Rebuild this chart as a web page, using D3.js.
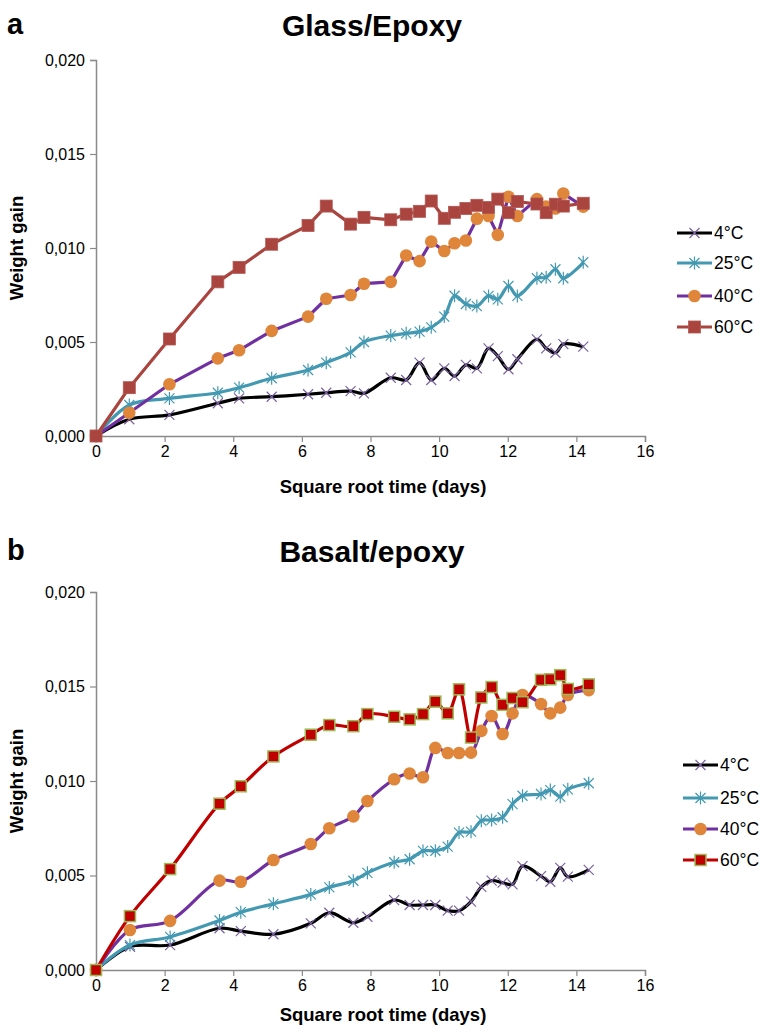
<!DOCTYPE html>
<html><head><meta charset="utf-8">
<script src="https://cdn.jsdelivr.net/npm/d3@7"></script>
<style>body{margin:0;background:#fff}svg{display:block}text{font-family:"Liberation Sans",Arial,Helvetica,sans-serif}</style>
</head><body>
<svg id="c" width="760" height="1028"></svg>
<script>
// ---------- data ----------
const xTicks = [0, 2, 4, 6, 8, 10, 12, 14, 16];
const yTicks = [0, 0.005, 0.010, 0.015, 0.020];
const seriesNames = ["4°C", "25°C", "40°C", "60°C"];

const glassTime = [0, 0.97, 2.14, 3.55, 4.17, 5.12, 6.18, 6.71, 7.42, 7.81, 8.59, 9.04, 9.43, 9.77, 10.15, 10.45, 10.78, 11.1, 11.44, 11.71, 12.02, 12.28, 12.85, 13.12, 13.39, 13.62, 14.2];
const glass4  = [0, 0.00089, 0.00112, 0.00174, 0.0020, 0.00209, 0.00222, 0.0023, 0.00239, 0.00227, 0.0031, 0.00298, 0.0039, 0.00298, 0.0036, 0.00319, 0.00378, 0.0036, 0.00466, 0.00425, 0.00355, 0.00408, 0.00514, 0.00466, 0.00443, 0.00489, 0.00475];
const glass25 = [0, 0.00165, 0.0020, 0.0023, 0.00257, 0.00307, 0.00351, 0.0039, 0.00445, 0.0050, 0.00534, 0.00546, 0.00555, 0.00578, 0.00635, 0.00746, 0.00702, 0.00691, 0.00745, 0.00727, 0.00798, 0.00745, 0.00839, 0.00844, 0.00887, 0.00839, 0.00924];
const glass40 = [0, 0.00124, 0.00275, 0.00413, 0.00456, 0.00559, 0.00635, 0.0073, 0.0075, 0.0081, 0.0082, 0.0096, 0.0093, 0.01034, 0.00984, 0.01025, 0.0104, 0.01156, 0.0117, 0.0107, 0.01273, 0.0117, 0.0126, 0.0122, 0.0121, 0.0129, 0.0122];
const glass60 = [0, 0.00257, 0.00516, 0.0082, 0.00897, 0.0102, 0.0112, 0.01223, 0.01127, 0.01163, 0.0115, 0.0118, 0.01195, 0.0125, 0.01158, 0.0119, 0.0121, 0.01227, 0.01215, 0.0126, 0.01188, 0.01247, 0.01234, 0.01188, 0.01233, 0.01223, 0.01238];

const basaltTime = [0, 0.99, 2.16, 3.6, 4.22, 5.17, 6.26, 6.8, 7.5, 7.91, 8.69, 9.14, 9.53, 9.89, 10.25, 10.58, 10.93, 11.23, 11.53, 11.85, 12.14, 12.43, 12.97, 13.24, 13.53, 13.75, 14.36];
const basalt4  = [0, 0.00123, 0.00132, 0.00221, 0.00206, 0.00189, 0.00247, 0.00303, 0.0025, 0.00282, 0.0037, 0.00344, 0.00344, 0.00344, 0.00314, 0.00314, 0.00362, 0.0044, 0.00473, 0.00462, 0.00453, 0.0055, 0.00497, 0.00467, 0.0054, 0.00494, 0.0053];
const basalt25 = [0, 0.00132, 0.00175, 0.00262, 0.00306, 0.0035, 0.0040, 0.00437, 0.00472, 0.00514, 0.0057, 0.00586, 0.0063, 0.00631, 0.00653, 0.00727, 0.00732, 0.0079, 0.00794, 0.00808, 0.00878, 0.00922, 0.00931, 0.00952, 0.00917, 0.00956, 0.00988];
const basalt40 = [0, 0.00212, 0.0026, 0.00473, 0.00467, 0.00582, 0.00667, 0.0075, 0.00813, 0.00894, 0.01009, 0.0104, 0.0102, 0.01175, 0.01148, 0.01148, 0.0115, 0.01265, 0.01344, 0.01249, 0.01358, 0.01455, 0.01407, 0.01358, 0.01388, 0.01455, 0.01481];
const basalt60 = [0, 0.00285, 0.00534, 0.0088, 0.00972, 0.0113, 0.01245, 0.01296, 0.0129, 0.01354, 0.0134, 0.01326, 0.01354, 0.0142, 0.01358, 0.01485, 0.0123, 0.01442, 0.01497, 0.01403, 0.01439, 0.01417, 0.01535, 0.01538, 0.0156, 0.01487, 0.01511];

// ---------- drawing ----------
const svg = d3.select("#c");
const fmtY = v => d3.format(".3f")(v).replace(".", ",");
const axisColor = "#8a8a8a";

function markerDraw(g, type, st) {
  if (type === "x") {
    g.append("path").attr("d", "M-5,-5L5,5M-5,5L5,-5").attr("stroke", st.mColor).attr("stroke-width", 1.2).attr("fill", "none");
  } else if (type === "star") {
    g.append("path").attr("d", "M-5,-5L5,5M-5,5L5,-5M0,-6.5L0,6.5").attr("stroke", st.mColor).attr("stroke-width", 1.2).attr("fill", "none");
  } else if (type === "circle") {
    g.append("circle").attr("r", 6.3).attr("fill", st.mColor);
  } else if (type === "square") {
    const s = st.size;
    g.append("rect").attr("x", -s/2).attr("y", -s/2).attr("width", s).attr("height", s)
      .attr("fill", st.mColor).attr("stroke", st.mStroke).attr("stroke-width", st.mStrokeW);
  }
}

function drawPanel(cfg) {
  const x = d3.scaleLinear().domain([0, 16]).range([96, 645]);
  const y = d3.scaleLinear().domain([0, 0.020]).range([cfg.y0, cfg.y1]);
  const g = svg.append("g");

  // letter & title
  g.append("text").attr("x", 7).attr("y", cfg.titleY - 2).attr("font-size", 29).attr("font-weight", "bold").text(cfg.letter);
  g.append("text").attr("x", 372).attr("y", cfg.titleY).attr("text-anchor", "middle").attr("font-size", 30).attr("font-weight", "bold").text(cfg.title);

  // axes
  const yAxis = d3.axisLeft(y).tickValues(yTicks).tickFormat(fmtY).tickSize(6).tickPadding(5);
  const ya = g.append("g").attr("transform", "translate(96,0)").call(yAxis);
  const xAxis = d3.axisBottom(x).tickValues(xTicks).tickFormat(d3.format("d")).tickSize(6).tickPadding(4);
  const xa = g.append("g").attr("transform", `translate(0,${cfg.y0})`).call(xAxis);
  [ya, xa].forEach(a => {
    a.select(".domain").attr("stroke", axisColor).attr("stroke-width", 1.5);
    a.selectAll(".tick line").attr("stroke", axisColor).attr("stroke-width", 1.2);
    a.selectAll(".tick text").attr("fill", "#000").attr("font-size", 16).attr("font-family", "Liberation Sans, Arial, sans-serif");
  });

  g.append("text").attr("x", 383).attr("y", cfg.xTitleY).attr("text-anchor", "middle").attr("font-size", 18.5).attr("font-weight", "bold").text("Square root time (days)");
  g.append("text").attr("transform", `translate(23,${(cfg.y0 + cfg.y1) / 2}) rotate(-90)`).attr("text-anchor", "middle").attr("font-size", 18.5).attr("font-weight", "bold").text("Weight gain");

  // series
  cfg.series.forEach((s, i) => {
    const pts = cfg.time.map((t, j) => [t, s.values[j]]);
    const line = d3.line().x(d => x(d[0])).y(d => y(d[1])).curve(s.smooth ? d3.curveCatmullRom.alpha(0.5) : d3.curveLinear);
    g.append("path").datum(pts).attr("d", line).attr("fill", "none").attr("stroke", s.lColor).attr("stroke-width", 3.2).attr("stroke-linejoin", "round");
    pts.forEach(p => {
      const mg = g.append("g").attr("transform", `translate(${x(p[0])},${y(p[1])})`);
      markerDraw(mg, s.marker, s);
    });
    // legend
    const ly = cfg.legendY[i];
    const lg = g.append("g");
    lg.append("line").attr("x1", cfg.legendX).attr("x2", cfg.legendX + 35).attr("y1", ly).attr("y2", ly).attr("stroke", s.lColor).attr("stroke-width", 3.2);
    markerDraw(lg.append("g").attr("transform", `translate(${cfg.legendX + 17.5},${ly})`), s.marker, s);
    lg.append("text").attr("x", cfg.legendX + 37).attr("y", ly + 6).attr("font-size", 17.5).text(seriesNames[i]);
  });
}

drawPanel({
  letter: "a", title: "Glass/Epoxy", titleY: 36, y0: 436, y1: 60, xTitleY: 493,
  time: glassTime, legendX: 677, legendY: [233, 263, 296, 327],
  series: [
    {values: glass4, lColor: "#000", marker: "x", mColor: "#7b62a0", smooth: true},
    {values: glass25, lColor: "#4399b1", marker: "star", mColor: "#4399b1", smooth: true},
    {values: glass40, lColor: "#7030a0", marker: "circle", mColor: "#df863b", smooth: false},
    {values: glass60, lColor: "#a9443f", marker: "square", mColor: "#a9443f", mStroke: "#b35753", mStrokeW: 0.8, size: 12, smooth: false}
  ]
});

drawPanel({
  letter: "b", title: "Basalt/epoxy", titleY: 562, y0: 970, y1: 592, xTitleY: 1021,
  time: basaltTime, legendX: 683, legendY: [765, 798, 829, 860],
  series: [
    {values: basalt4, lColor: "#000", marker: "x", mColor: "#7b62a0", smooth: true},
    {values: basalt25, lColor: "#4399b1", marker: "star", mColor: "#4399b1", smooth: true},
    {values: basalt40, lColor: "#7030a0", marker: "circle", mColor: "#df863b", smooth: true},
    {values: basalt60, lColor: "#c00000", marker: "square", mColor: "#c00000", mStroke: "#9bbb59", mStrokeW: 1.5, size: 11, smooth: true}
  ]
});
</script>
</body></html>
